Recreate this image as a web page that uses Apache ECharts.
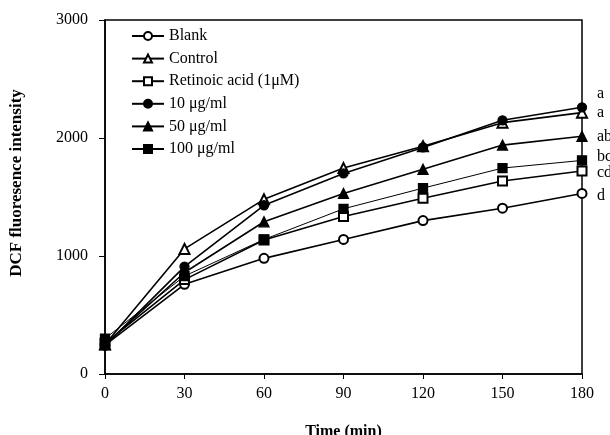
<!DOCTYPE html>
<html>
<head>
<meta charset="utf-8">
<script src="https://cdn.jsdelivr.net/npm/echarts@6/dist/echarts.min.js"></script>
<style>
  html, body { margin: 0; padding: 0; background: #fff; }
  #chart { width: 610px; height: 435px; }
</style>
</head>
<body>
<div id="chart"></div>
<script>
const times = ['0', '30', '60', '90', '120', '150', '180'];
const blank = [245, 760, 980, 1140, 1300, 1405, 1530];
const control = [250, 1060, 1480, 1745, 1930, 2130, 2215];
const retinoic = [260, 800, 1135, 1335, 1490, 1635, 1720];
const ug10 = [240, 910, 1430, 1700, 1920, 2150, 2260];
const ug50 = [250, 860, 1290, 1530, 1735, 1940, 2015];
const ug100 = [300, 830, 1140, 1400, 1575, 1745, 1810];
const names = ['Blank', 'Control', 'Retinoic acid (1μM)', '10 μg/ml', '50 μg/ml', '100 μg/ml'];
const letters = ['d', 'a', 'cd', 'a', 'ab', 'bc'];

const font = 'Liberation Serif';
const chart = echarts.init(document.getElementById('chart'));

// symbol, line width, label y-shift for the end letters
const looks = [
  { symbol: 'emptyCircle', w: 1.6, dy: 2 },
  { symbol: 'emptyTriangle', w: 1.6, dy: 0 },
  { symbol: 'emptyRect', w: 1.6, dy: 2 },
  { symbol: 'circle', w: 1.6, dy: -14 },
  { symbol: 'triangle', w: 1.6, dy: 1 },
  { symbol: 'rect', w: 1, dy: -4 }
];
const allData = [blank, control, retinoic, ug10, ug50, ug100];

const series = allData.map((d, i) => ({
  name: names[i],
  type: 'line',
  data: d,
  symbol: looks[i].symbol,
  symbolSize: looks[i].symbol.indexOf('riangle') >= 0 ? 10 : 9,
  z: looks[i].symbol.indexOf('empty') === 0 ? 2 : 3,
  lineStyle: { color: '#000', width: looks[i].w },
  itemStyle: { color: '#000', borderColor: '#000', borderWidth: 1.3 },
  endLabel: {
    show: true,
    formatter: letters[i],
    distance: 15,
    offset: [0, looks[i].dy],
    color: '#000',
    fontFamily: font,
    fontSize: 16
  },
  emphasis: { disabled: true }
}));

chart.setOption({
  animation: false,
  backgroundColor: '#fff',
  grid: { left: 105, right: 28, top: 20, bottom: 61, outerBoundsMode: 'none' },
  legend: {
    left: 126,
    top: 23,
    orient: 'vertical',
    itemWidth: 32,
    itemHeight: 10,
    itemGap: 6.6,
    textStyle: { fontFamily: font, fontSize: 16, color: '#000', lineHeight: 16 },
    data: names
  },
  xAxis: {
    type: 'category',
    data: times,
    boundaryGap: false,
    name: 'Time (min)',
    nameLocation: 'middle',
    nameGap: 50,
    nameTextStyle: { fontFamily: font, fontSize: 16, fontWeight: 'bold', color: '#000' },
    axisLine: { lineStyle: { color: '#000', width: 1.5 } },
    axisTick: { show: true, length: 5, inside: false, lineStyle: { color: '#000' } },
    axisLabel: { fontFamily: font, fontSize: 16, color: '#000', margin: 12 },
    splitLine: { show: false }
  },
  yAxis: {
    type: 'value',
    min: 0,
    max: 3000,
    interval: 1000,
    name: 'DCF fluoresence intensity',
    nameLocation: 'middle',
    nameGap: 80,
    nameTextStyle: { fontFamily: font, fontSize: 17, fontWeight: 'bold', color: '#000', padding: [0, 0, 0, 28] },
    axisLine: { show: true, lineStyle: { color: '#000', width: 1.5 } },
    axisTick: { show: true, length: 6, lineStyle: { color: '#000' } },
    axisLabel: { fontFamily: font, fontSize: 16, color: '#000', margin: 17, formatter: v => String(v) },
    splitLine: { show: false }
  },
  graphic: [{
    type: 'rect',
    shape: { x: 105, y: 20, width: 477, height: 354 },
    style: { fill: 'none', stroke: '#000', lineWidth: 1.5 },
    silent: true,
    z: 0
  }],
  series: series
});
</script>
</body>
</html>
